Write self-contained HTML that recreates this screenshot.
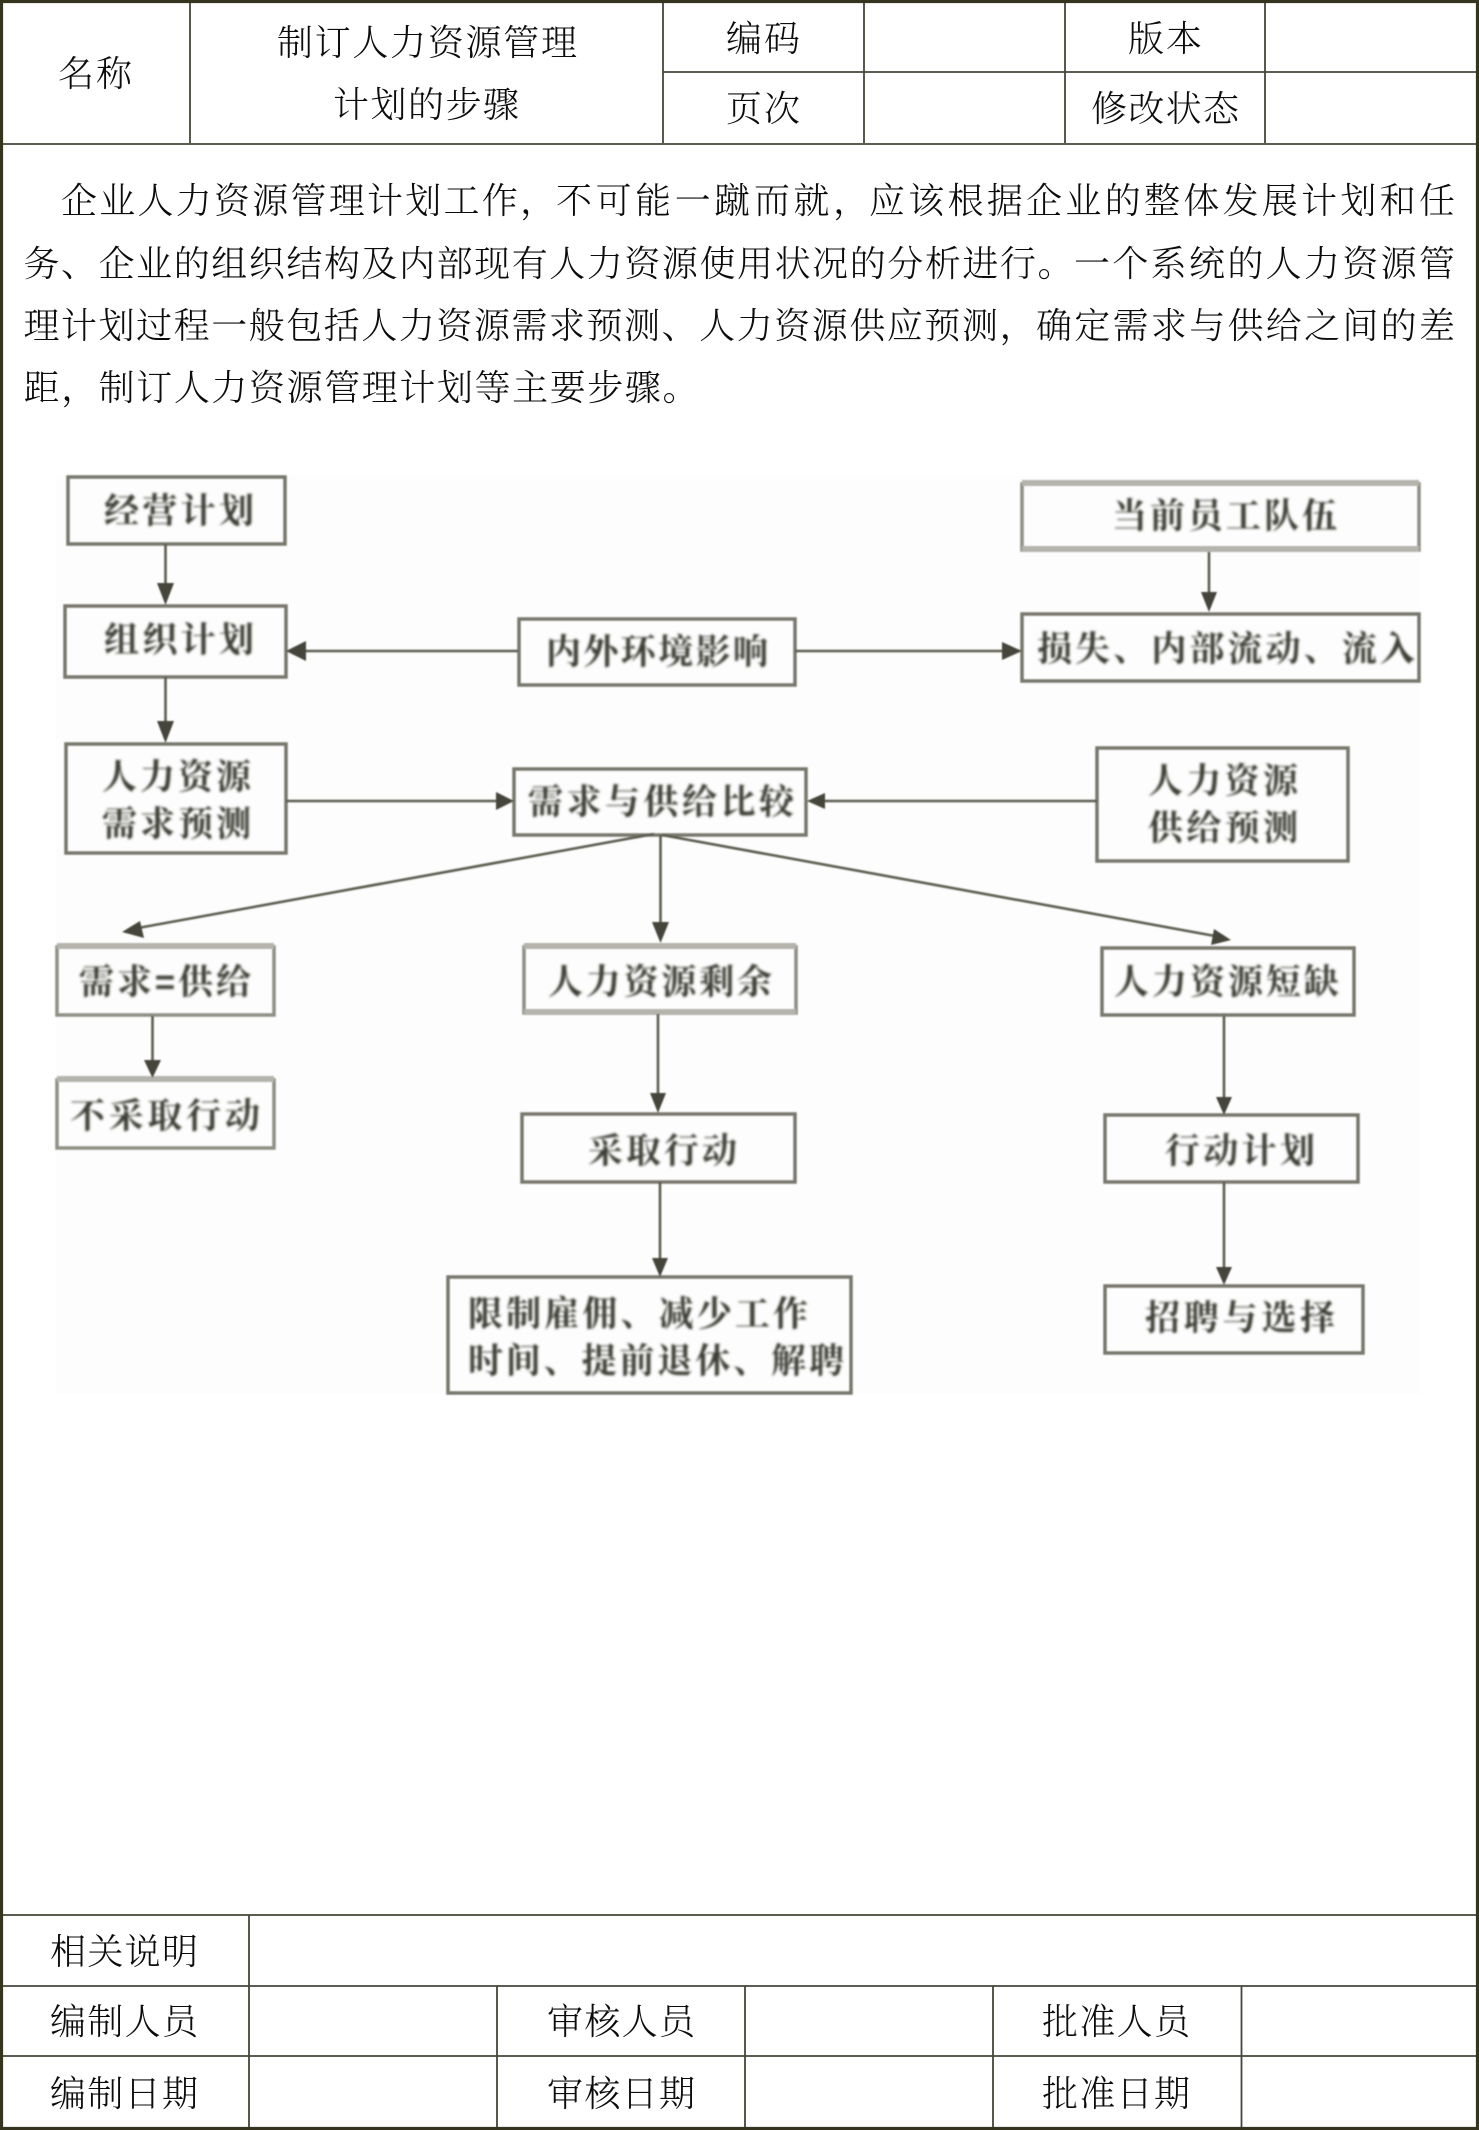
<!DOCTYPE html>
<html lang="zh-CN">
<head>
<meta charset="utf-8">
<title>制订人力资源管理计划的步骤</title>
<style>
html,body{margin:0;padding:0;background:#fff;width:1479px;height:2130px;overflow:hidden}
svg{display:block}
.t{font-family:"Liberation Serif","Noto Serif CJK SC",serif;font-size:36px;font-weight:300;fill:#0c0c0c}
.d{font-family:"Liberation Sans","Noto Serif CJK SC",serif;font-size:35px;font-weight:700;fill:#3e3e35}
</style>
</head>
<body>
<svg width="1479" height="2130" viewBox="0 0 1479 2130" xmlns="http://www.w3.org/2000/svg">
<defs>
<filter id="b" x="-2%" y="-2%" width="104%" height="104%"><feGaussianBlur stdDeviation="0.9"/></filter>
<filter id="c" x="-2%" y="-2%" width="104%" height="104%"><feGaussianBlur stdDeviation="1.2"/></filter>
</defs>
<rect x="0" y="0" width="1479" height="2130" fill="#fff"/>

<!-- diagram -->
<rect x="56" y="476" width="1364" height="918" fill="#fdfdfd"/>
<g filter="url(#b)">
<g fill="none" stroke="#77776c" stroke-width="3.5">
<rect x="68" y="477" width="217" height="67"/>
<rect x="65" y="606" width="221" height="71"/>
<rect x="66" y="744" width="220" height="109"/>
<rect x="519" y="619" width="276" height="66"/>
<rect x="514" y="769" width="292" height="66"/>
<rect x="1097" y="748" width="251" height="113"/>
<rect x="1022" y="614" width="397" height="67"/>
<rect x="1102" y="948" width="252" height="67"/>
<rect x="1105" y="1115" width="253" height="67"/>
<rect x="1105" y="1286" width="258" height="67"/>
<rect x="522" y="1114" width="273" height="68"/>
<rect x="448" y="1277" width="403" height="116"/>
</g>
<g fill="none" stroke="#8e8e84" stroke-width="3.5">
<rect x="57" y="947" width="217" height="68"/>
<rect x="57" y="1080" width="217" height="68"/>
<rect x="524" y="947" width="272" height="66"/>
<rect x="1022" y="484" width="397" height="66"/>
</g>
<g fill="none" stroke="#b4b4ac" stroke-width="6">
<path d="M57 946H274M57 1079H274M524 946H796M1022 483H1419M1022 549H1419M524 1012H796"/>
</g>
<g stroke="#5c5c50" stroke-width="2.6" fill="none">
<path d="M165.500 544V590M165.500 677V726M518 651H300M795 651H1005M286 801H500M1097 801H820"/>
<path d="M660.500 835V925M654 834L138 928M662 835L1215 936"/>
<path d="M152.500 1016V1064M658 1014V1098M660 1182V1262M1209 552V596M1224 1016V1100M1224 1182V1270"/>
</g>
<g fill="#45453a">
<path d="M157 583L174 583L165.500 605Z"/>
<path d="M157 721L174 721L165.500 743Z"/>
<path d="M306 641L306 661L286 651Z"/>
<path d="M1002 642L1002 660L1022 651Z"/>
<path d="M496 792L496 810L514 801Z"/>
<path d="M825 793L825 809L807 801Z"/>
<path d="M652 922L669 922L660.500 943Z"/>
<path d="M122 932L140 921L144 938Z"/>
<path d="M1231 940L1214 929L1211 945Z"/>
<path d="M144 1060L161 1060L152.500 1078Z"/>
<path d="M650 1093L666 1093L658 1113Z"/>
<path d="M652 1258L668 1258L660 1277Z"/>
<path d="M1201 592L1217 592L1209 612Z"/>
<path d="M1216 1097L1232 1097L1224 1115Z"/>
<path d="M1216 1267L1232 1267L1224 1285Z"/>
</g>
</g>
<g filter="url(#c)">
<text class="d" x="104" y="523" textLength="150" lengthAdjust="spacing">经营计划</text>
<text class="d" x="104" y="652" textLength="150" lengthAdjust="spacing">组织计划</text>
<text class="d" x="102" y="789" textLength="149" lengthAdjust="spacing">人力资源</text>
<text class="d" x="102" y="836" textLength="149" lengthAdjust="spacing">需求预测</text>
<text class="d" x="546" y="664" textLength="222" lengthAdjust="spacing">内外环境影响</text>
<text class="d" x="528" y="814" textLength="266" lengthAdjust="spacing">需求与供给比较</text>
<text class="d" x="1112" y="528" textLength="225" lengthAdjust="spacing">当前员工队伍</text>
<text class="d" x="1037" y="661" textLength="378" lengthAdjust="spacing">损失、内部流动、流入</text>
<text class="d" x="1148" y="793" textLength="150" lengthAdjust="spacing">人力资源</text>
<text class="d" x="1148" y="840" textLength="150" lengthAdjust="spacing">供给预测</text>
<text class="d" x="79" y="994" textLength="172" lengthAdjust="spacing">需求=供给</text>
<text class="d" x="70" y="1128" textLength="190" lengthAdjust="spacing">不采取行动</text>
<text class="d" x="548" y="994" textLength="224" lengthAdjust="spacing">人力资源剩余</text>
<text class="d" x="588" y="1163" textLength="149" lengthAdjust="spacing">采取行动</text>
<text class="d" x="468" y="1326" textLength="340" lengthAdjust="spacing">限制雇佣、减少工作</text>
<text class="d" x="468" y="1373" textLength="376" lengthAdjust="spacing">时间、提前退休、解聘</text>
<text class="d" x="1114" y="994" textLength="225" lengthAdjust="spacing">人力资源短缺</text>
<text class="d" x="1165" y="1163" textLength="150" lengthAdjust="spacing">行动计划</text>
<text class="d" x="1145" y="1330" textLength="190" lengthAdjust="spacing">招聘与选择</text>
</g>

<!-- table lines -->
<g stroke="#46463a" stroke-width="1.8" fill="none">
<path d="M190 2V143M663 2V143M864 2V143M1065 2V143M1265 2V143"/>
<path d="M663 72H1477M2 144H1477"/>
<path d="M2 1915H1477M2 1986H1477M2 2056H1477"/>
<path d="M249 1915V2128M497 1986V2128M745 1986V2128M993 1986V2128M1241.500 1986V2128"/>
</g>
<rect x="1.500" y="1.500" width="1476" height="2127" fill="none" stroke="#35351f" stroke-width="3.200"/>

<!-- header -->
<text class="t" x="58" y="86" textLength="74" lengthAdjust="spacing">名称</text>
<text class="t" x="277" y="55" textLength="300" lengthAdjust="spacing">制订人力资源管理</text>
<text class="t" x="333" y="117" textLength="186" lengthAdjust="spacing">计划的步骤</text>
<text class="t" x="726" y="51" textLength="74" lengthAdjust="spacing">编码</text>
<text class="t" x="726" y="121" textLength="74" lengthAdjust="spacing">页次</text>
<text class="t" x="1128" y="51" textLength="74" lengthAdjust="spacing">版本</text>
<text class="t" x="1091" y="121" textLength="148" lengthAdjust="spacing">修改状态</text>

<!-- body -->
<text class="t" y="213"><tspan x="61" textLength="495" lengthAdjust="spacing">企业人力资源管理计划工作，</tspan><tspan x="556" textLength="313" lengthAdjust="spacing">不可能一蹴而就，</tspan><tspan x="869" textLength="586" lengthAdjust="spacing">应该根据企业的整体发展计划和任</tspan></text>
<text class="t" y="276"><tspan x="23.500" textLength="1050" lengthAdjust="spacing">务、企业的组织结构及内部现有人力资源使用状况的分析进行。</tspan><tspan x="1074" textLength="381" lengthAdjust="spacing">一个系统的人力资源管</tspan></text>
<text class="t" y="338"><tspan x="23.500" textLength="1012" lengthAdjust="spacing">理计划过程一般包括人力资源需求预测、人力资源供应预测，</tspan><tspan x="1036" textLength="419" lengthAdjust="spacing">确定需求与供给之间的差</tspan></text>
<text class="t" x="23.500" y="400" textLength="675" lengthAdjust="spacing">距，制订人力资源管理计划等主要步骤。</text>

<!-- footer -->
<text class="t" x="50" y="1964" textLength="148" lengthAdjust="spacing">相关说明</text>
<text class="t" x="50" y="2034" textLength="148" lengthAdjust="spacing">编制人员</text>
<text class="t" x="50" y="2106" textLength="148" lengthAdjust="spacing">编制日期</text>
<text class="t" x="547" y="2034" textLength="148" lengthAdjust="spacing">审核人员</text>
<text class="t" x="547" y="2106" textLength="148" lengthAdjust="spacing">审核日期</text>
<text class="t" x="1042" y="2034" textLength="148" lengthAdjust="spacing">批准人员</text>
<text class="t" x="1042" y="2106" textLength="148" lengthAdjust="spacing">批准日期</text>
</svg>
</body>
</html>
